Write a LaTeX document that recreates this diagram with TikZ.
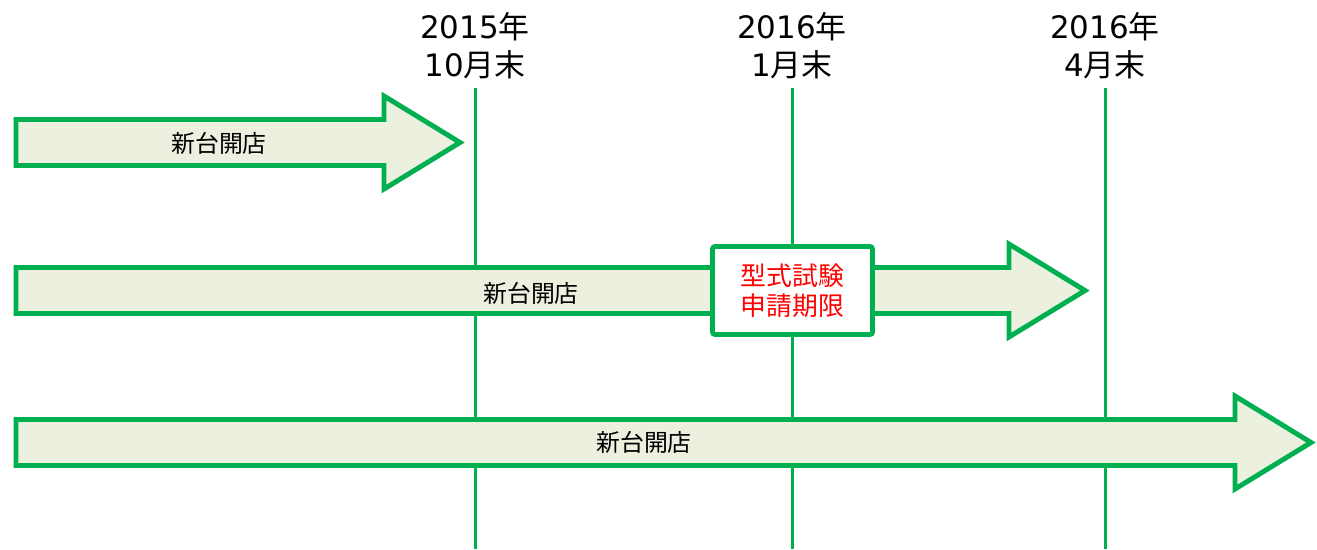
\documentclass[tikz,border=0pt]{standalone}
\usepackage{fontspec}
\setmainfont{DejaVu Sans}
\newfontfamily\jp{Noto Sans CJK JP}
\usetikzlibrary{positioning}

\definecolor{gruen}{HTML}{00B050}
\definecolor{hellgruen}{HTML}{EBF1DE}
\definecolor{rot}{HTML}{FF0000}

\begin{document}
\begin{tikzpicture}[x=0.02cm,y=-0.02cm,
  datum/.style={align=center,inner sep=0pt,font=\fontsize{17.6}{21.5}\selectfont},
  zeitlinie/.style={draw=gruen,line width=1.7pt},
  pfeil/.style={draw=gruen,fill=hellgruen,line width=2.8pt,line join=miter},
  beschriftung/.style={inner sep=0pt,font=\jp\fontsize{13.6}{16}\selectfont},
  frist/.style={draw=gruen,fill=white,line width=2.8pt,rounded corners=1.5pt,
    minimum width=3.2cm,minimum height=1.76cm,inner sep=0pt,align=center,
    text=rot,font=\jp\fontsize{14.7}{17}\selectfont}]

\useasboundingbox (0,0) rectangle (1317,549);

% Zeitpunkte

\coordinate (o1) at (475,88);
\coordinate (u1) at (475,549);
\coordinate (o2) at (792,88);
\coordinate (u2) at (792,549);
\coordinate (o3) at (1105,88);
\coordinate (u3) at (1105,549);

\node[datum,above=0.18cm of o1] (d1) {2015{\jp 年}\\10{\jp 月末}};
\node[datum,above=0.18cm of o2] (d2) {2016{\jp 年}\\1{\jp 月末}};
\node[datum,above=0.18cm of o3] (d3) {2016{\jp 年}\\4{\jp 月末}};

\draw[zeitlinie] (o1) -- (u1);
\draw[zeitlinie] (o2) -- (u2);
\draw[zeitlinie] (o3) -- (u3);

% Pfeile

\draw[pfeil] (16,119.5) -- (384,119.5) -- (384,96) -- (460,142.5)
  -- (384,189) -- (384,165.5) -- (16,165.5) -- cycle;

\draw[pfeil] (16,267.5) -- (1009,267.5) -- (1009,244) -- (1085,290.5)
  -- (1009,337) -- (1009,313.5) -- (16,313.5) -- cycle;

\draw[pfeil] (16,419.5) -- (1235,419.5) -- (1235,396) -- (1311,442.5)
  -- (1235,489) -- (1235,465.5) -- (16,465.5) -- cycle;

\node[beschriftung] (p1) at (219,143) {新台開店};
\node[beschriftung] (p2) at (531,293) {新台開店};
\node[beschriftung] (p3) at (644,442) {新台開店};

% Frist

\node[frist] (frist) at (792.5,290.5) {型式試験\\申請期限};

\end{tikzpicture}
\end{document}
